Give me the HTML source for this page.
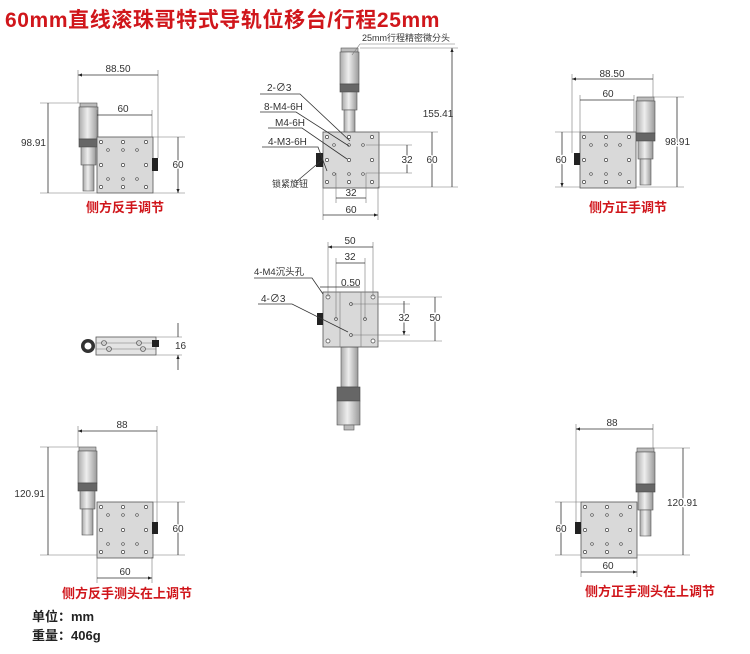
<!DOCTYPE html>
<html><head><meta charset="utf-8"><style>
html,body{margin:0;padding:0;background:#fff;}
svg{display:block}
text{font-family:"Liberation Sans","Noto Sans CJK SC",sans-serif;}
.d{font-size:10px;fill:#333}
.r{font-size:13px;font-weight:bold;fill:#d0161b;font-family:"Liberation Sans","Noto Sans CJK SC",sans-serif}
.l{stroke:#333;stroke-width:0.8;fill:none}
.e{stroke:#777;stroke-width:0.6;fill:none}
</style></head><body>
<svg width="750" height="654" viewBox="0 0 750 654" xmlns="http://www.w3.org/2000/svg">
<defs>
<marker id="a" viewBox="0 0 10 10" refX="10" refY="5" markerWidth="6" markerHeight="5" orient="auto-start-reverse"><path d="M0,1L10,5L0,9z" fill="#222"/></marker>
<linearGradient id="cy" x1="0" x2="1"><stop offset="0" stop-color="#aaa"/><stop offset=".45" stop-color="#eee"/><stop offset="1" stop-color="#999"/></linearGradient>
<g id="holes">
<g fill="#fff" stroke="#444" stroke-width="0.7">
<circle cx="4" cy="5" r="1.6"/><circle cx="26" cy="5" r="1.6"/><circle cx="49" cy="5" r="1.6"/>
<circle cx="11" cy="13" r="1.3"/><circle cx="26" cy="13" r="1.3"/><circle cx="40" cy="13" r="1.3"/>
<circle cx="4" cy="28" r="1.6"/><circle cx="26" cy="28" r="1.6"/><circle cx="49" cy="28" r="1.6"/>
<circle cx="11" cy="42" r="1.3"/><circle cx="26" cy="42" r="1.3"/><circle cx="40" cy="42" r="1.3"/>
<circle cx="4" cy="50" r="1.6"/><circle cx="26" cy="50" r="1.6"/><circle cx="49" cy="50" r="1.6"/>
</g></g>
<g id="plate"><rect x="0" y="0" width="56" height="56" fill="#d9d9d9" stroke="#555" stroke-width="0.8"/><use href="#holes"/></g>
<g id="mic">
<rect x="0" y="0" width="17" height="4" fill="#bbb" stroke="#555" stroke-width="0.6"/>
<rect x="-1" y="4" width="19" height="32" fill="url(#cy)" stroke="#555" stroke-width="0.6"/>
<rect x="-1" y="36" width="19" height="8" fill="#666" stroke="#444" stroke-width="0.6"/>
<rect x="1" y="44" width="15" height="18" fill="url(#cy)" stroke="#555" stroke-width="0.6"/>
<rect x="3" y="62" width="11" height="26" fill="url(#cy)" stroke="#555" stroke-width="0.6"/>
</g>
</defs>

<text x="5" y="27" style="font-size:21px;letter-spacing:0.6px;font-weight:bold;fill:#d0161b;font-family:'Liberation Sans','Noto Sans CJK SC',sans-serif">60mm直线滚珠哥特式导轨位移台/行程25mm</text>

<!-- TL -->
<use href="#mic" x="80" y="103"/>
<use href="#plate" x="97" y="137"/>
<rect x="152" y="158" width="6" height="13" fill="#222"/>
<path class="e" d="M78,70V103M158,70V158M97,110V137M152,110V137M40,103H80M40,193H97M153,137H185M153,193H185"/>
<path class="l" d="M78,75H158M97,115H152M48,103V193M178,137V193" marker-start="url(#a)" marker-end="url(#a)"/>
<text class="d" x="118" y="72" text-anchor="middle">88.50</text>
<text class="d" x="123" y="112" text-anchor="middle">60</text>
<text class="d" x="46" y="146" text-anchor="end">98.91</text>
<text class="d" x="178" y="168" text-anchor="middle" style="paint-order:stroke;stroke:#fff;stroke-width:3">60</text>
<text class="r" x="125" y="212" text-anchor="middle">侧方反手调节</text>

<!-- Center -->
<use href="#mic" x="341" y="48"/>
<use href="#plate" x="323" y="132"/>
<rect x="316" y="153" width="7" height="14" fill="#222"/>
<path class="e" d="M360,48H458M378,132H438M378,187H458M366,145H412M366,173H412M323,187V220M378,187V220M336,173V203M366,173V203"/>
<path class="l" d="M452,48V187M432,132V187M407,145V173M336,198H366M323,215H378" marker-start="url(#a)" marker-end="url(#a)"/>
<text class="d" x="438" y="117" text-anchor="middle">155.41</text>
<text class="d" x="432" y="163" text-anchor="middle" style="paint-order:stroke;stroke:#fff;stroke-width:3">60</text>
<text class="d" x="407" y="163" text-anchor="middle" style="paint-order:stroke;stroke:#fff;stroke-width:3">32</text>
<text class="d" x="351" y="196" text-anchor="middle">32</text>
<text class="d" x="351" y="213" text-anchor="middle">60</text>
<text class="d" x="362" y="41" style="font-size:9px">25mm行程精密微分头</text>
<path class="e" d="M360,44H455M360,44L352,55"/>
<text class="d" x="267" y="91">2-∅3</text>
<text class="d" x="264" y="110">8-M4-6H</text>
<text class="d" x="275" y="126">M4-6H</text>
<text class="d" x="268" y="145">4-M3-6H</text>
<text class="d" x="272" y="187" style="font-size:9px">锁紧旋钮</text>
<path class="l" d="M260,94H300L350,141M260,112H296L349,146M268,128H302L347,159M262,147H318L327,171M296,182L322,160"/>

<!-- Middle -->
<rect x="341" y="347" width="17" height="40" fill="url(#cy)" stroke="#555" stroke-width="0.6"/>
<rect x="337" y="387" width="23" height="14" fill="#666" stroke="#444" stroke-width="0.6"/>
<rect x="337" y="401" width="23" height="24" fill="url(#cy)" stroke="#555" stroke-width="0.6"/>
<rect x="344" y="425" width="10" height="5" fill="#bbb" stroke="#555" stroke-width="0.6"/>
<rect x="323" y="292" width="55" height="55" fill="#d9d9d9" stroke="#555" stroke-width="0.8"/>
<path class="e" d="M340,292V347M361,292V347"/>
<rect x="317" y="313" width="6" height="12" fill="#222"/>
<g fill="#fff" stroke="#444" stroke-width="0.7"><circle cx="328" cy="297" r="2"/><circle cx="373" cy="297" r="2"/><circle cx="328" cy="341" r="2"/><circle cx="373" cy="341" r="2"/><circle cx="351" cy="304" r="1.4"/><circle cx="351" cy="335" r="1.4"/><circle cx="336" cy="319" r="1.4"/><circle cx="365" cy="319" r="1.4"/></g>
<path class="e" d="M328,242V297M373,242V297M336,258V319M365,258V319M378,297H442M378,341H442M351,304H410M351,335H410"/>
<path class="l" d="M328,247H373M336,263H365M435,297V341M404,301V335" marker-start="url(#a)" marker-end="url(#a)"/>
<text class="d" x="350" y="244" text-anchor="middle">50</text>
<text class="d" x="350" y="260" text-anchor="middle">32</text>
<text class="d" x="341" y="286">0.50</text>
<text class="d" x="404" y="321" text-anchor="middle" style="paint-order:stroke;stroke:#fff;stroke-width:3">32</text>
<text class="d" x="435" y="321" text-anchor="middle" style="paint-order:stroke;stroke:#fff;stroke-width:3">50</text>
<text class="d" x="254" y="275" style="font-size:9.5px">4-M4沉头孔</text>
<text class="d" x="261" y="302">4-∅3</text>
<path class="l" d="M254,278H312L323,294M258,304H292L348,332M320,287H360"/>

<!-- side view -->
<rect x="96" y="337" width="60" height="18" fill="#e4e4e4" stroke="#555" stroke-width="0.8"/>
<path class="e" d="M96,343H156M96,349H156"/>
<circle cx="88" cy="346" r="7" fill="#333"/><circle cx="88" cy="346" r="3.5" fill="#fff"/>
<g fill="#ccc" stroke="#444" stroke-width="0.6"><circle cx="104" cy="343" r="2.5"/><circle cx="109" cy="349" r="2.5"/><circle cx="139" cy="343" r="2.5"/><circle cx="143" cy="349" r="2.5"/></g>
<rect x="152" y="340" width="7" height="7" fill="#222"/>
<path class="e" d="M156,337H182M156,355H182"/>
<path class="l" d="M178,323V337M178,370V355" marker-end="url(#a)"/>
<text class="d" x="175" y="349">16</text>

<!-- BL -->
<use href="#mic" x="79" y="447"/>
<use href="#plate" x="97" y="502"/>
<rect x="152" y="522" width="6" height="12" fill="#222"/>
<path class="e" d="M78,426V447M157,426V522M40,447H79M40,555H97M153,502H185M153,555H185M97,557V583M152,557V583"/>
<path class="l" d="M78,431H157M48,447V555M178,502V555M97,578H152" marker-start="url(#a)" marker-end="url(#a)"/>
<text class="d" x="122" y="428" text-anchor="middle">88</text>
<text class="d" x="45" y="497" text-anchor="end">120.91</text>
<text class="d" x="178" y="532" text-anchor="middle" style="paint-order:stroke;stroke:#fff;stroke-width:3">60</text>
<text class="d" x="125" y="575" text-anchor="middle">60</text>
<text class="r" x="127" y="598" text-anchor="middle">侧方反手测头在上调节</text>
<text x="32" y="621" style="font-size:13px;font-weight:bold;fill:#222;font-family:'Liberation Sans','Noto Sans CJK SC',sans-serif">单位：mm</text>
<text x="32" y="640" style="font-size:13px;font-weight:bold;fill:#222;font-family:'Liberation Sans','Noto Sans CJK SC',sans-serif">重量：406g</text>

<!-- BR -->
<use href="#mic" x="637" y="448"/>
<use href="#plate" x="581" y="502"/>
<rect x="575" y="522" width="6" height="12" fill="#222"/>
<path class="e" d="M576,424V522M653,424V448M653,448H690M637,555H690M555,502H581M555,555H581M581,557V577M637,557V577"/>
<path class="l" d="M576,429H653M683,448V555M561,502V555M581,572H637" marker-start="url(#a)" marker-end="url(#a)"/>
<text class="d" x="612" y="426" text-anchor="middle">88</text>
<text class="d" x="667" y="506" style="paint-order:stroke;stroke:#fff;stroke-width:3">120.91</text>
<text class="d" x="561" y="532" text-anchor="middle" style="paint-order:stroke;stroke:#fff;stroke-width:3">60</text>
<text class="d" x="608" y="569" text-anchor="middle">60</text>
<text class="r" x="650" y="596" text-anchor="middle">侧方正手测头在上调节</text>

<!-- TR -->
<use href="#mic" x="637" y="97"/>
<use href="#plate" x="580" y="132"/>
<rect x="574" y="153" width="6" height="12" fill="#222"/>
<path class="e" d="M572,74V153M653,74V97M580,95V132M634,95V132M653,97H684M636,187H684M555,132H580M555,187H580"/>
<path class="l" d="M572,79H653M580,100H634M677,97V187M562,132V187" marker-start="url(#a)" marker-end="url(#a)"/>
<text class="d" x="612" y="77" text-anchor="middle">88.50</text>
<text class="d" x="608" y="97" text-anchor="middle">60</text>
<text class="d" x="665" y="145" style="paint-order:stroke;stroke:#fff;stroke-width:3">98.91</text>
<text class="d" x="561" y="163" text-anchor="middle" style="paint-order:stroke;stroke:#fff;stroke-width:3">60</text>
<text class="r" x="628" y="212" text-anchor="middle">侧方正手调节</text>
</svg>
</body></html>
